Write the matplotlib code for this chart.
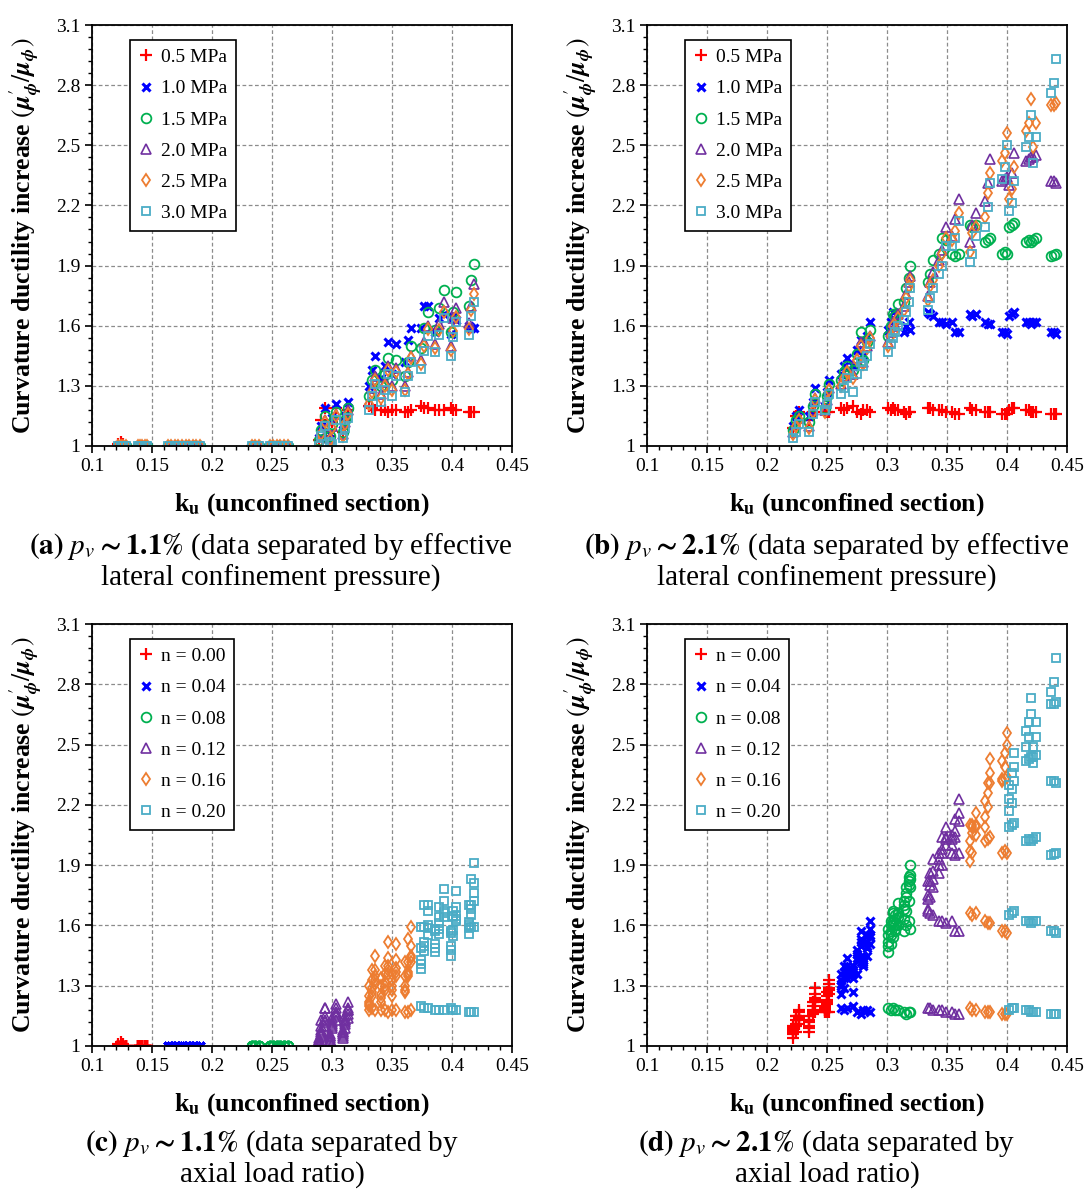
import matplotlib
matplotlib.use("Agg")
import matplotlib.pyplot as plt
import numpy as np

plt.rcParams["font.family"] = ["Liberation Serif", "DejaVu Serif"]
plt.rcParams["mathtext.fontset"] = "stix"

PRESSURES = ["0.5 MPa", "1.0 MPa", "1.5 MPa", "2.0 MPa", "2.5 MPa", "3.0 MPa"]
RATIOS = ["n = 0.00", "n = 0.04", "n = 0.08", "n = 0.12", "n = 0.16", "n = 0.20"]

# p_v ~ 1.1 %: k_u of each section per axial load ratio, and mu'/mu for
# every confinement pressure (rows in the order of PRESSURES)
KU11_N00 = [0.122, 0.124, 0.126, 0.128, 0.138, 0.140, 0.142, 0.144, 0.146]
MU11_N00 = [
    [1.01, 1.02, 1.01, 1.00, 1.00, 1.00, 1.00, 1.00, 1.00],
    [1.00, 1.00, 1.00, 1.00, 1.00, 1.00, 1.00, 1.00, 1.00],
    [1.00, 1.00, 1.00, 1.00, 1.00, 1.00, 1.00, 1.00, 1.00],
    [1.00, 1.00, 1.00, 1.00, 1.00, 1.00, 1.00, 1.00, 1.00],
    [1.00, 1.00, 1.00, 1.00, 1.00, 1.00, 1.00, 1.00, 1.00],
    [1.00, 1.00, 1.00, 1.00, 1.00, 1.00, 1.00, 1.00, 1.00],
]
KU11_N04 = [0.163, 0.166, 0.169, 0.172, 0.175, 0.178, 0.181, 0.184, 0.187, 0.190]
MU11_N04 = [
    [1.00, 1.00, 1.00, 1.00, 1.00, 1.00, 1.00, 1.00, 1.00, 1.00],
    [1.00, 1.00, 1.00, 1.00, 1.00, 1.00, 1.00, 1.00, 1.00, 1.00],
    [1.00, 1.00, 1.00, 1.00, 1.00, 1.00, 1.00, 1.00, 1.00, 1.00],
    [1.00, 1.00, 1.00, 1.00, 1.00, 1.00, 1.00, 1.00, 1.00, 1.00],
    [1.00, 1.00, 1.00, 1.00, 1.00, 1.00, 1.00, 1.00, 1.00, 1.00],
    [1.00, 1.00, 1.00, 1.00, 1.00, 1.00, 1.00, 1.00, 1.00, 1.00],
]
KU11_N08 = [0.233, 0.236, 0.239, 0.248, 0.251, 0.254, 0.257, 0.260, 0.263]
MU11_N08 = [
    [1.00, 1.00, 1.00, 1.00, 1.00, 1.00, 1.00, 1.00, 1.00],
    [1.00, 1.00, 1.00, 1.00, 1.00, 1.00, 1.00, 1.00, 1.00],
    [1.00, 1.00, 1.00, 1.00, 1.00, 1.00, 1.00, 1.00, 1.00],
    [1.00, 1.00, 1.00, 1.00, 1.00, 1.00, 1.00, 1.00, 1.00],
    [1.00, 1.00, 1.00, 1.00, 1.00, 1.00, 1.00, 1.00, 1.00],
    [1.00, 1.00, 1.00, 1.00, 1.00, 1.00, 1.00, 1.00, 1.00],
]
KU11_N12 = [0.289, 0.291, 0.294, 0.298, 0.300, 0.303, 0.309, 0.311, 0.313]
MU11_N12 = [
    [1.03, 1.13, 1.19, 1.05, 1.12, 1.19, 1.07, 1.13, 1.18],
    [1.04, 1.10, 1.19, 1.06, 1.14, 1.21, 1.08, 1.15, 1.22],
    [1.03, 1.08, 1.15, 1.05, 1.11, 1.17, 1.07, 1.13, 1.19],
    [1.02, 1.07, 1.13, 1.04, 1.10, 1.16, 1.06, 1.12, 1.18],
    [1.01, 1.06, 1.12, 1.03, 1.09, 1.15, 1.05, 1.11, 1.16],
    [1.00, 1.05, 1.10, 1.02, 1.01, 1.13, 1.04, 1.09, 1.14],
]
KU11_N16 = [0.331, 0.333, 0.336, 0.341, 0.344, 0.347, 0.350, 0.353, 0.361, 0.363, 0.366]
MU11_N16 = [
    [1.20, 1.19, 1.18, 1.18, 1.18, 1.17, 1.18, 1.18, 1.17, 1.17, 1.18],
    [1.30, 1.38, 1.45, 1.34, 1.40, 1.52, 1.36, 1.51, 1.42, 1.53, 1.59],
    [1.25, 1.33, 1.38, 1.30, 1.36, 1.44, 1.33, 1.43, 1.35, 1.42, 1.50],
    [1.22, 1.29, 1.35, 1.26, 1.32, 1.40, 1.30, 1.39, 1.30, 1.37, 1.45],
    [1.21, 1.27, 1.33, 1.24, 1.30, 1.38, 1.28, 1.37, 1.28, 1.36, 1.44],
    [1.18, 1.25, 1.31, 1.22, 1.28, 1.36, 1.25, 1.35, 1.27, 1.35, 1.42],
]
KU11_N20 = [0.374, 0.377, 0.380, 0.386, 0.389, 0.393, 0.399, 0.401, 0.403, 0.414, 0.416, 0.418]
MU11_N20 = [
    [1.20, 1.19, 1.19, 1.18, 1.18, 1.18, 1.19, 1.18, 1.18, 1.17, 1.17, 1.17],
    [1.59, 1.70, 1.70, 1.57, 1.64, 1.66, 1.56, 1.645, 1.63, 1.60, 1.59, 1.59],
    [1.49, 1.59, 1.67, 1.58, 1.69, 1.78, 1.57, 1.67, 1.77, 1.70, 1.83, 1.91],
    [1.43, 1.52, 1.60, 1.51, 1.61, 1.72, 1.50, 1.64, 1.69, 1.615, 1.70, 1.81],
    [1.41, 1.50, 1.585, 1.49, 1.58, 1.67, 1.48, 1.575, 1.645, 1.585, 1.68, 1.76],
    [1.385, 1.475, 1.55, 1.47, 1.555, 1.64, 1.45, 1.545, 1.62, 1.555, 1.65, 1.72],
]

# p_v ~ 2.1 %
KU21_N00 = [0.222, 0.224, 0.227, 0.235, 0.238, 0.240, 0.248, 0.250, 0.252]
MU21_N00 = [
    [1.09, 1.15, 1.17, 1.13, 1.17, 1.17, 1.17, 1.17, 1.17],
    [1.10, 1.15, 1.18, 1.15, 1.22, 1.29, 1.20, 1.27, 1.33],
    [1.08, 1.13, 1.15, 1.12, 1.20, 1.26, 1.19, 1.25, 1.31],
    [1.07, 1.11, 1.14, 1.10, 1.18, 1.24, 1.18, 1.23, 1.29],
    [1.06, 1.10, 1.13, 1.09, 1.17, 1.23, 1.17, 1.22, 1.28],
    [1.04, 1.07, 1.11, 1.07, 1.16, 1.22, 1.18, 1.21, 1.26],
]
KU21_N04 = [0.262, 0.264, 0.267, 0.272, 0.275, 0.278, 0.280, 0.283, 0.286]
MU21_N04 = [
    [1.19, 1.18, 1.19, 1.20, 1.17, 1.16, 1.18, 1.18, 1.17],
    [1.36, 1.40, 1.44, 1.40, 1.48, 1.53, 1.45, 1.55, 1.62],
    [1.33, 1.37, 1.40, 1.38, 1.46, 1.57, 1.43, 1.52, 1.58],
    [1.31, 1.35, 1.38, 1.36, 1.44, 1.52, 1.42, 1.50, 1.55],
    [1.30, 1.34, 1.37, 1.34, 1.43, 1.50, 1.41, 1.49, 1.54],
    [1.26, 1.29, 1.34, 1.27, 1.36, 1.42, 1.40, 1.45, 1.51],
]
KU21_N08 = [0.301, 0.303, 0.305, 0.307, 0.309, 0.314, 0.316, 0.318, 0.319]
MU21_N08 = [
    [1.19, 1.18, 1.19, 1.18, 1.18, 1.17, 1.16, 1.17, 1.17],
    [1.58, 1.62, 1.67, 1.63, 1.66, 1.57, 1.60, 1.62, 1.58],
    [1.55, 1.60, 1.66, 1.65, 1.71, 1.72, 1.79, 1.84, 1.90],
    [1.52, 1.57, 1.62, 1.60, 1.66, 1.70, 1.76, 1.82, 1.85],
    [1.50, 1.55, 1.60, 1.58, 1.64, 1.68, 1.74, 1.80, 1.83],
    [1.47, 1.51, 1.54, 1.57, 1.60, 1.63, 1.67, 1.72, 1.79],
]
KU21_N12 = [0.334, 0.336, 0.338, 0.343, 0.346, 0.349, 0.354, 0.357, 0.360]
MU21_N12 = [
    [1.19, 1.19, 1.18, 1.18, 1.18, 1.17, 1.17, 1.16, 1.16],
    [1.67, 1.66, 1.65, 1.62, 1.62, 1.61, 1.62, 1.57, 1.57],
    [1.82, 1.86, 1.93, 1.96, 2.04, 2.03, 1.96, 1.95, 1.96],
    [1.75, 1.82, 1.87, 1.93, 1.98, 2.09, 2.05, 2.13, 2.23],
    [1.73, 1.80, 1.83, 1.90, 1.96, 2.04, 2.03, 2.07, 2.16],
    [1.68, 1.74, 1.79, 1.86, 1.90, 2.00, 2.00, 2.04, 2.12],
]
KU21_N16 = [0.369, 0.371, 0.374, 0.382, 0.384, 0.386, 0.396, 0.398, 0.400]
MU21_N16 = [
    [1.19, 1.18, 1.18, 1.17, 1.17, 1.17, 1.16, 1.16, 1.16],
    [1.66, 1.65, 1.66, 1.62, 1.61, 1.61, 1.57, 1.57, 1.56],
    [2.10, 2.09, 2.10, 2.02, 2.03, 2.04, 1.96, 1.97, 1.96],
    [2.02, 2.10, 2.16, 2.22, 2.31, 2.43, 2.32, 2.33, 2.34],
    [1.97, 2.06, 2.09, 2.14, 2.26, 2.36, 2.42, 2.46, 2.56],
    [1.92, 1.96, 2.05, 2.09, 2.19, 2.31, 2.33, 2.39, 2.50],
]
KU21_N20 = [0.402, 0.404, 0.406, 0.416, 0.418, 0.420, 0.422, 0.424, 0.437, 0.439, 0.441]
MU21_N20 = [
    [1.18, 1.19, 1.19, 1.18, 1.18, 1.17, 1.17, 1.17, 1.16, 1.16, 1.16],
    [1.65, 1.66, 1.67, 1.62, 1.62, 1.61, 1.62, 1.62, 1.57, 1.57, 1.56],
    [2.09, 2.10, 2.11, 2.02, 2.03, 2.02, 2.03, 2.04, 1.95, 1.955, 1.96],
    [2.30, 2.36, 2.46, 2.42, 2.43, 2.44, 2.44, 2.45, 2.32, 2.32, 2.31],
    [2.23, 2.28, 2.39, 2.57, 2.61, 2.73, 2.49, 2.61, 2.70, 2.70, 2.71],
    [2.17, 2.21, 2.32, 2.49, 2.54, 2.65, 2.41, 2.54, 2.76, 2.81, 2.93],
]

GROUPS_11 = [(KU11_N00, MU11_N00), (KU11_N04, MU11_N04), (KU11_N08, MU11_N08),
             (KU11_N12, MU11_N12), (KU11_N16, MU11_N16), (KU11_N20, MU11_N20)]
GROUPS_21 = [(KU21_N00, MU21_N00), (KU21_N04, MU21_N04), (KU21_N08, MU21_N08),
             (KU21_N12, MU21_N12), (KU21_N16, MU21_N16), (KU21_N20, MU21_N20)]

Y_TICKS = [1, 1.3, 1.6, 1.9, 2.2, 2.5, 2.8, 3.1]
Y_TICK_LABELS = ["1", "1.3", "1.6", "1.9", "2.2", "2.5", "2.8", "3.1"]
X_TICKS = [0.1, 0.15, 0.2, 0.25, 0.3, 0.35, 0.4, 0.45]

STYLES = [
    dict(marker="+", color="#FF0000", ms=8, mew=1.6),
    dict(marker="x", color="#0000FF", ms=6, mew=2.2),
    dict(marker="o", color="#00B050", mfc="none", ms=7, mew=1.3),
    dict(marker="^", color="#7030A0", mfc="none", ms=7, mew=1.2),
    dict(marker="d", color="#ED7D31", mfc="none", ms=6.5, mew=1.3),
    dict(marker="s", color="#4BACC6", mfc="none", ms=5.5, mew=1.3),
]

W, H = 1086, 1192
fig = plt.figure(figsize=(W / 100, H / 100), dpi=100)


def px_axes(left, top, right, bottom):
    return fig.add_axes([left / W, 1 - bottom / H, (right - left) / W, (bottom - top) / H])


def split(groups):
    """Regroup the points by confinement pressure and by axial load ratio."""
    by_p = [([], []) for _ in PRESSURES]
    by_n = [([], []) for _ in RATIOS]
    for ni, (ku, mus) in enumerate(groups):
        for pi, mu in enumerate(mus):
            by_p[pi][0].extend(ku)
            by_p[pi][1].extend(mu)
            by_n[ni][0].extend(ku)
            by_n[ni][1].extend(mu)
    return by_p, by_n


def panel(ax, series, labels):
    for (x, y), label, style in zip(series, labels, STYLES):
        ax.plot(x, y, ls="none", label=label, **style)
    ax.set_xlim(0.1, 0.45)
    ax.set_ylim(1, 3.1)
    ax.set_xticks(X_TICKS)
    ax.set_xticklabels(["%g" % t for t in X_TICKS])
    ax.set_yticks(Y_TICKS)
    ax.set_yticklabels(Y_TICK_LABELS)
    ax.set_xticks(np.arange(0.1, 0.4501, 0.01), minor=True)
    ax.set_yticks(np.arange(1, 3.1001, 0.06), minor=True)
    ax.tick_params(which="major", direction="out", length=5, width=1.2, labelsize=14)
    ax.tick_params(which="minor", direction="out", length=3, width=1.0)
    ax.grid(True, which="major", ls=(0, (3, 2)), color="#8c8c8c", lw=0.9)
    for s in ax.spines.values():
        s.set_linewidth(1.3)
    ax.set_xlabel(r"k$_\mathbf{u}$ (unconfined section)", fontsize=18.5, fontweight="bold",
                  labelpad=12)
    ax.set_ylabel(r"Curvature ductility increase $(\boldsymbol{\mu}^{\prime}_{\boldsymbol{\phi}}"
                  r"/\boldsymbol{\mu}_{\boldsymbol{\phi}})$",
                  fontsize=18.5, fontweight="bold", labelpad=8)
    leg = ax.legend(loc="upper left", bbox_to_anchor=(0.09, 0.965), fontsize=14,
                    frameon=True, fancybox=False, framealpha=1, edgecolor="black",
                    handlelength=0.8, handletextpad=0.35, labelspacing=0.7,
                    borderpad=0.45, borderaxespad=0)
    leg.get_frame().set_linewidth(1.2)


p11, n11 = split(GROUPS_11)
p21, n21 = split(GROUPS_21)

ax_a = px_axes(92, 25, 512, 446)
ax_b = px_axes(647, 25, 1067, 446)
ax_c = px_axes(92, 624, 512, 1046)
ax_d = px_axes(647, 624, 1067, 1046)
panel(ax_a, p11, PRESSURES)
panel(ax_b, p21, PRESSURES)
panel(ax_c, n11, RATIOS)
panel(ax_d, n21, RATIOS)

captions = [
    (271, 547, r"$\mathbf{(a)}\ \boldsymbol{p_v}\mathbf{\sim1.1\%}$ (data separated by effective",
     "lateral confinement pressure)"),
    (827, 547, r"$\mathbf{(b)}\ \boldsymbol{p_v}\mathbf{\sim2.1\%}$ (data separated by effective",
     "lateral confinement pressure)"),
    (272, 1144, r"$\mathbf{(c)}\ \boldsymbol{p_v}\mathbf{\sim1.1\%}$ (data separated by",
     "axial load ratio)"),
    (827, 1144, r"$\mathbf{(d)}\ \boldsymbol{p_v}\mathbf{\sim2.1\%}$ (data separated by",
     "axial load ratio)"),
]
for cx, cy, line1, line2 in captions:
    fig.text(cx / W, 1 - cy / H, line1, ha="center", va="center", fontsize=21)
    fig.text(cx / W, 1 - (cy + 31) / H, line2, ha="center", va="center", fontsize=21)

fig.savefig("out.png", dpi=100)
